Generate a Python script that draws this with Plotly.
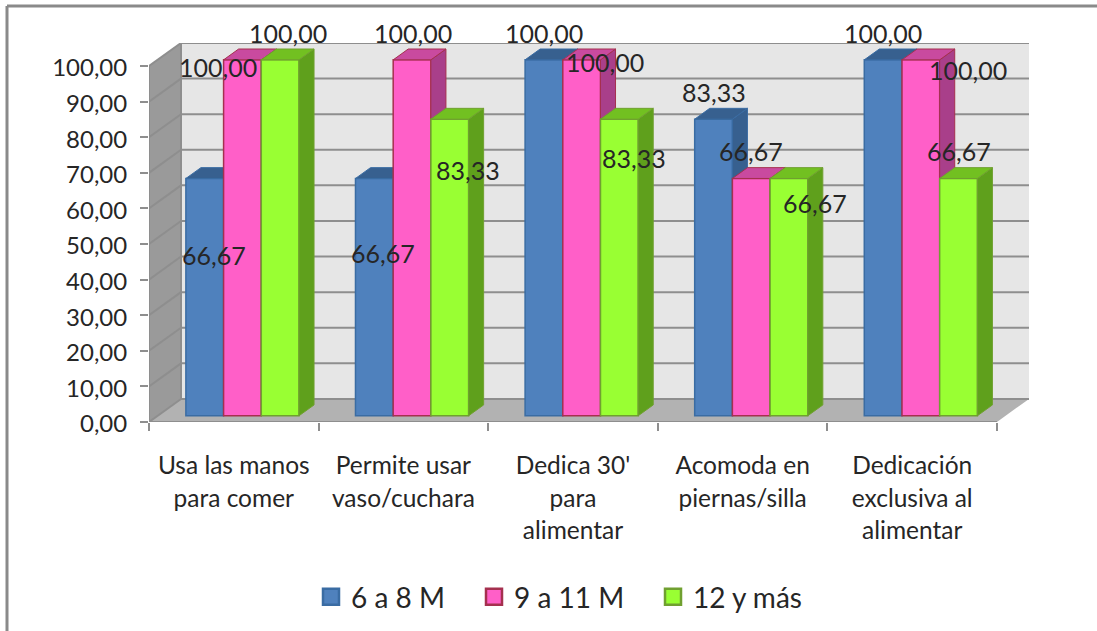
import plotly.graph_objects as go

# Chart data
CATEGORIES = [
    "Usa las manos<br>para comer",
    "Permite usar<br>vaso/cuchara",
    "Dedica 30'<br>para<br>alimentar",
    "Acomoda en<br>piernas/silla",
    "Dedicación<br>exclusiva al<br>alimentar",
]
SERIES_NAMES = ["6 a 8 M", "9 a 11 M", "12 y más"]
VALUES_6_8 = [66.67, 66.67, 100.00, 83.33, 100.00]
VALUES_9_11 = [100.00, 100.00, 100.00, 66.67, 100.00]
VALUES_12 = [100.00, 83.33, 83.33, 66.67, 66.67]
Y_TICKS = [0, 10, 20, 30, 40, 50, 60, 70, 80, 90, 100]

# Data label nudges in pixels from the top centre of each bar (right, down)
LABEL_NUDGE_6_8 = [(9, 77), (9, 75), (0, -27), (0, -27), (0, -27)]
LABEL_NUDGE_9_11 = [(-24, 7), (1, -27), (23, 2), (0, -27), (47, 10)]
LABEL_NUDGE_12 = [(8, -27), (18, 51), (15, 39), (26, 25), (0, -27)]

# Left edge of each legend entry, in pixels
LEGEND_LEFT = [311, 474, 653]

# Box depth expressed in axis units
DEPTH_X = 0.1887
DEPTH_Y = 6.48
BAR_NEAR = 0.27
BAR_FAR = 0.74
BAR_WIDTH = 0.2223

W, H = 1097, 631
X_DOMAIN = [149 / W, 1029 / W]
Y_DOMAIN = [1 - 422 / H, 1 - 43 / H]
X_RANGE = [0, 5 + DEPTH_X]
Y_RANGE = [0, 100 + DEPTH_Y]

STYLES = [
    dict(front="#4F81BD", side="#37608F", top="#37608F", line="#3A6CA3"),
    dict(front="#FF5FC8", side="#A93F8A", top="#C94A9F", line="#A5304F"),
    dict(front="#99FF33", side="#5FA01C", top="#72C021", line="#70A030"),
]
GRID = "#8E8E8E"
TEXT = "#262626"

fig = go.Figure()

# Walls, floor and gridlines of the box
shapes = []


def polygon(points, fill):
    path = "M" + "L".join(f"{x},{y}" for x, y in points) + "Z"
    shapes.append(dict(type="path", path=path, xref="x", yref="y", layer="below",
                       fillcolor=fill, line=dict(width=0)))


def segment(x0, y0, x1, y1):
    shapes.append(dict(type="line", x0=x0, y0=y0, x1=x1, y1=y1, xref="x", yref="y",
                       layer="below", line=dict(color=GRID, width=2)))


polygon([(DEPTH_X, DEPTH_Y), (5 + DEPTH_X, DEPTH_Y), (5 + DEPTH_X, 100 + DEPTH_Y), (DEPTH_X, 100 + DEPTH_Y)], "#E6E6E6")
polygon([(0, 0), (0, 100), (DEPTH_X, 100 + DEPTH_Y), (DEPTH_X, DEPTH_Y)], "#9A9A9A")
polygon([(0, 0), (5, 0), (5 + DEPTH_X, DEPTH_Y), (DEPTH_X, DEPTH_Y)], "#B2B2B2")
for tick in Y_TICKS:
    segment(0, tick, DEPTH_X, tick + DEPTH_Y)
    segment(DEPTH_X, tick + DEPTH_Y, 5 + DEPTH_X, tick + DEPTH_Y)
segment(0, 0, 5, 0)
segment(0, 0, 0, 100)
segment(DEPTH_X, DEPTH_Y, DEPTH_X, 100 + DEPTH_Y)

# Frame lines along the top and left of the page
for x0, y0, x1, y1 in [(7 / W, 1 - 6 / H, 1, 1 - 6 / H), (7 / W, 1 - 6 / H, 7 / W, 0)]:
    shapes.append(dict(type="line", xref="paper", yref="paper", x0=x0, y0=y0, x1=x1, y1=y1,
                       line=dict(color="#8A8A8A", width=3)))

# One overlaid axis pair per series keeps nearer faces painted over farther ones
annotations = []
series_values = [VALUES_6_8, VALUES_9_11, VALUES_12]
series_nudges = [LABEL_NUDGE_6_8, LABEL_NUDGE_9_11, LABEL_NUDGE_12]
legends = {}
for s, (name, values, nudges, style) in enumerate(zip(SERIES_NAMES, series_values, series_nudges, STYLES)):
    xa = "x" if s == 0 else f"x{s + 1}"
    ya = "y" if s == 0 else f"y{s + 1}"
    base = BAR_NEAR * DEPTH_Y
    left = [c + 0.5 - 1.5 * BAR_WIDTH + s * BAR_WIDTH + BAR_NEAR * DEPTH_X for c in range(len(values))]
    run = (BAR_FAR - BAR_NEAR) * DEPTH_X
    rise = (BAR_FAR - BAR_NEAR) * DEPTH_Y

    fig.add_trace(go.Bar(
        x=[v + BAR_WIDTH / 2 for v in left], y=values, base=base, width=BAR_WIDTH,
        name=name, showlegend=False, xaxis=xa, yaxis=ya,
        marker=dict(color=style["front"], line=dict(color=style["line"], width=1.5)),
    ))

    for x, v, (dx, dy) in zip(left, values, nudges):
        top = v + base
        right = x + BAR_WIDTH
        fig.add_trace(go.Scatter(
            x=[right, right + run, right + run, right, right],
            y=[base, base + rise, top + rise, top, base],
            mode="lines", fill="toself", fillcolor=style["side"], hoverinfo="skip",
            line=dict(color=style["line"], width=1), showlegend=False, xaxis=xa, yaxis=ya,
        ))
        fig.add_trace(go.Scatter(
            x=[x, right, right + run, x + run, x],
            y=[top, top, top + rise, top + rise, top],
            mode="lines", fill="toself", fillcolor=style["top"], hoverinfo="skip",
            line=dict(color=style["line"], width=1), showlegend=False, xaxis=xa, yaxis=ya,
        ))
        annotations.append(dict(
            x=x + BAR_WIDTH / 2, y=top, xref="x", yref="y", showarrow=False,
            text=f"{v:.2f}".replace(".", ","), xanchor="center", yanchor="middle",
            xshift=dx, yshift=-dy, font=dict(family="Lato", size=25, color=TEXT),
        ))

    # Each legend entry sits in its own legend with a large square swatch
    legend_id = "legend" if s == 0 else f"legend{s + 1}"
    legends[legend_id] = dict(
        orientation="h", x=LEGEND_LEFT[s] / W, xanchor="left", y=1 - 597 / H, yanchor="middle",
        font=dict(family="Lato", size=28, color=TEXT), bgcolor="rgba(0,0,0,0)",
    )
    fig.add_trace(go.Scatter(
        x=[None], y=[None], mode="markers", name=name, xaxis=xa, yaxis=ya, legend=legend_id,
        marker=dict(symbol="square", size=16, color=style["front"],
                    line=dict(color=style["line"], width=2.5)),
    ))

label_text = ["<br>".join(f'<span style="font-size:24.5px">{part}</span>' for part in c.split("<br>"))
              for c in CATEGORIES]

fig.update_layout(
    width=W, height=H, autosize=False,
    margin=dict(l=0, r=0, t=0, b=0),
    paper_bgcolor="white", plot_bgcolor="rgba(0,0,0,0)",
    separators=",.",
    barmode="overlay",
    shapes=shapes, annotations=annotations,
    showlegend=True,
    xaxis=dict(domain=X_DOMAIN, range=X_RANGE, showgrid=False, zeroline=False, showline=False,
               tickmode="array", tickvals=[c + 0.5 for c in range(len(CATEGORIES))], ticktext=label_text,
               ticks="", ticklabelstandoff=26, tickangle=0, automargin=False,
               tickfont=dict(family="Lato", size=25, color=TEXT),
               minor=dict(tickmode="array", tickvals=list(range(len(CATEGORIES) + 1)), ticks="outside",
                          ticklen=8, tickwidth=2, tickcolor=GRID, showgrid=False)),
    yaxis=dict(domain=Y_DOMAIN, range=Y_RANGE, showgrid=False, zeroline=False, showline=False,
               tickmode="array", tickvals=Y_TICKS, tickformat=".2f", ticks="outside", ticklen=8,
               tickwidth=2, tickcolor=GRID, ticklabelstandoff=8, ticklabelshift=2, automargin=False,
               tickfont=dict(family="Lato", size=24, color=TEXT)),
    **legends,
)
for s in (2, 3):
    fig.update_layout({
        f"xaxis{s}": dict(range=X_RANGE, overlaying="x", anchor=f"y{s}", visible=False),
        f"yaxis{s}": dict(range=Y_RANGE, domain=Y_DOMAIN, overlaying="y", anchor=f"x{s}", visible=False),
    })

fig.write_html("out.html")
